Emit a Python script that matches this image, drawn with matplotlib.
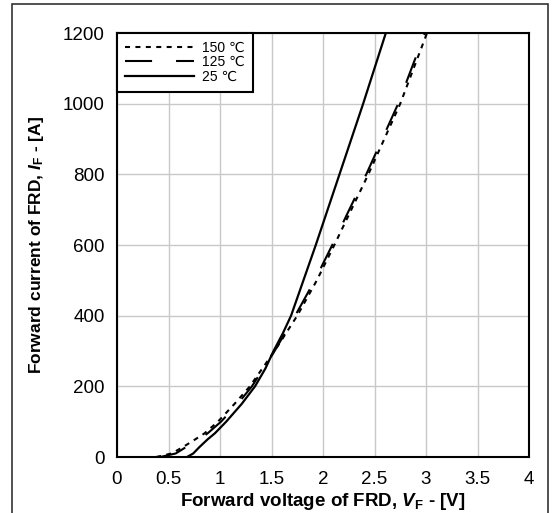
# FRD forward characteristic, I_F vs V_F at three temperatures
import matplotlib.pyplot as plt
from matplotlib.patches import Rectangle

plt.rcParams['font.family'] = ['Liberation Sans', 'DejaVu Sans']
plt.rcParams['mathtext.fontset'] = 'custom'
plt.rcParams['mathtext.rm'] = 'Liberation Sans:bold'
plt.rcParams['mathtext.it'] = 'Liberation Sans:italic:bold'

# voltage [V] at which each curve reaches the current [A]
I_hot = [0, 10, 28, 50, 67, 100, 150, 200, 300, 400, 500, 600, 800, 1000, 1200]
V_150 = [0.38, 0.53, 0.64, 0.76, 0.85, 0.98, 1.14, 1.29, 1.53, 1.75, 1.94, 2.11, 2.44, 2.75, 3.01]
V_125 = [0.42, 0.57, 0.67, 0.80, 0.88, 1.01, 1.17, 1.31, 1.53, 1.73, 1.92, 2.09, 2.42, 2.73, 2.99]
I_25 = [0, 10, 28, 50, 67, 100, 150, 200, 250, 300, 350, 400, 500, 600, 800, 1000, 1200]
V_25 = [0.68, 0.74, 0.80, 0.88, 0.95, 1.06, 1.21, 1.34, 1.44, 1.52, 1.61, 1.69, 1.81, 1.93, 2.16, 2.39, 2.61]

x_ticks = [0, 0.5, 1, 1.5, 2, 2.5, 3, 3.5, 4]
x_labels = ['0', '0.5', '1', '1.5', '2', '2.5', '3', '3.5', '4']
y_ticks = [0, 200, 400, 600, 800, 1000, 1200]

fig = plt.figure(figsize=(5.58, 5.13), dpi=100)
# outer frame of the picture
fig.patches.append(Rectangle((12 / 558, -0.05), 536 / 558, 1.05 - 4 / 513,
                             transform=fig.transFigure, fill=False,
                             edgecolor='#333333', lw=1.2))
ax = fig.add_axes([117 / 558, 56 / 513, 412 / 558, 424 / 513])

ax.plot(V_150, I_hot, color='black', lw=1.5, ls=(0, (2.4, 2.6)), label='150 \u2103')
ax.plot(V_125, I_hot, color='black', lw=1.5, ls=(0, (13, 11.5)), label='125 \u2103')
ax.plot(V_25, I_25, color='black', lw=1.6, ls='-', label='25 \u2103')

ax.set_xlim(0, 4)
ax.set_ylim(0, 1200)
ax.set_xticks(x_ticks)
ax.set_xticklabels(x_labels)
ax.set_yticks(y_ticks)
ax.tick_params(length=0, labelsize=13.5)
ax.tick_params(axis='x', pad=10)
ax.tick_params(axis='y', pad=9)
ax.grid(True, color='#c8c8c8', lw=1)
ax.set_axisbelow(True)
for s in ax.spines.values():
    s.set_linewidth(1.5)

ax.set_xlabel(r'Forward voltage of FRD, $V_{\rm F}$ - [V]', fontsize=13.5,
              fontweight='bold', labelpad=2)
ax.set_ylabel(r'Forward current of FRD, $I_{\rm F}$ - [A]', fontsize=12.5,
              fontweight='bold', labelpad=12)

leg = ax.legend(loc='upper left', borderaxespad=0, fancybox=False,
                fontsize=10, handlelength=5.0, handletextpad=0.6,
                labelspacing=0.05, borderpad=0.55, framealpha=1)
leg.get_frame().set_edgecolor('black')
leg.get_frame().set_linewidth(1.5)

fig.savefig('out.png', dpi=100)
